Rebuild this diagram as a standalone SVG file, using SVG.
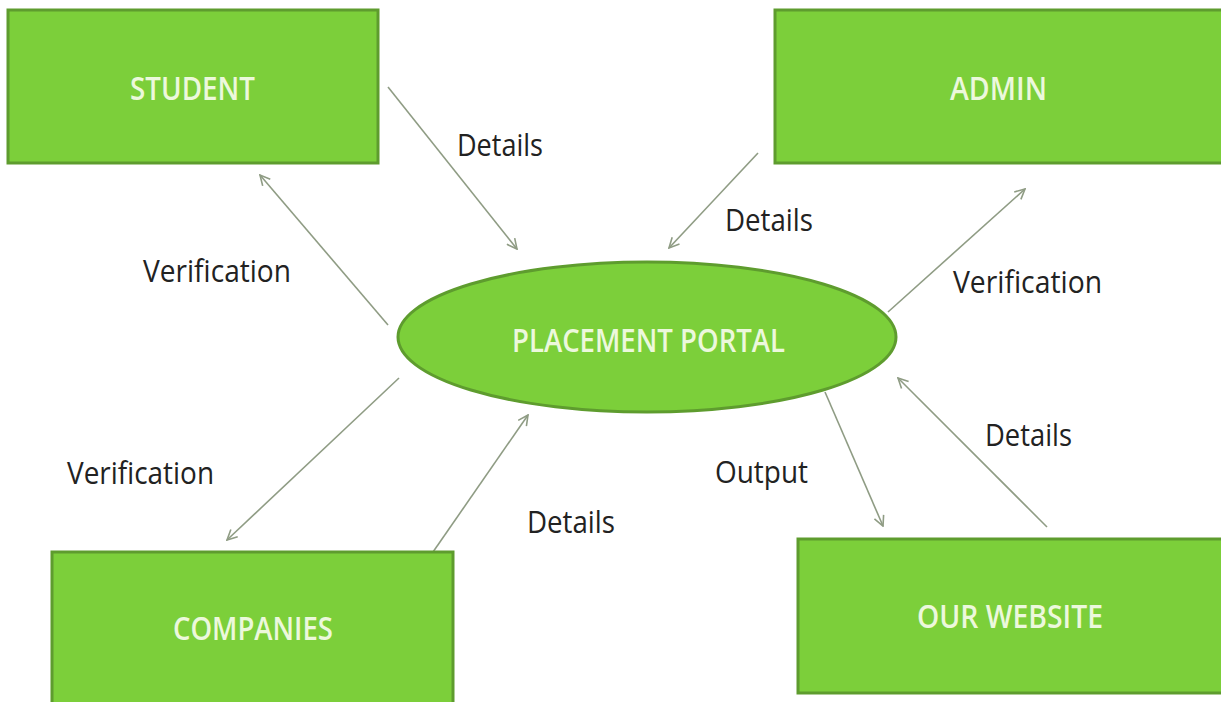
<svg xmlns="http://www.w3.org/2000/svg" width="1221" height="702" viewBox="0 0 1221 702">
  <defs>
    <marker id="arr" viewBox="0 0 12 12" refX="11" refY="6" markerWidth="12" markerHeight="12" markerUnits="userSpaceOnUse" orient="auto">
      <path d="M1,1 L11,6 L1,11" fill="none" stroke="#8f9c84" stroke-width="1.6"/>
    </marker>
    <style>
      .box { fill: #7ccf3a; stroke: #5e9c2e; stroke-width: 3; }
      .nlabel { font-family: "Open Sans", "Noto Sans", sans-serif; font-weight: 600; font-size: 32px; fill: #ecf8dc; }
      .elabel { font-family: "Open Sans", "Noto Sans", sans-serif; font-size: 31px; fill: #222; }
      .conn { stroke: #8f9c84; stroke-width: 1.6; fill: none; marker-end: url(#arr); }
    </style>
  </defs>
  <rect width="1221" height="702" fill="#ffffff"/>

  <g id="connectors">
    <line class="conn" x1="388" y1="87" x2="517" y2="249"/>
    <line class="conn" x1="758" y1="153" x2="669" y2="248"/>
    <line class="conn" x1="888" y1="312" x2="1025" y2="189"/>
    <line class="conn" x1="388" y1="325" x2="260" y2="175"/>
    <line class="conn" x1="399" y1="378" x2="227" y2="540"/>
    <line class="conn" x1="433" y1="552" x2="528" y2="415"/>
    <line class="conn" x1="825" y1="392" x2="883" y2="526"/>
    <line class="conn" x1="1047" y1="527" x2="898" y2="378"/>
    <text class="elabel" x="457" y="156" textLength="86" lengthAdjust="spacingAndGlyphs">Details</text>
    <text class="elabel" x="725" y="231" textLength="88" lengthAdjust="spacingAndGlyphs">Details</text>
    <text class="elabel" x="143" y="282" textLength="148" lengthAdjust="spacingAndGlyphs">Verification</text>
    <text class="elabel" x="953" y="293" textLength="149" lengthAdjust="spacingAndGlyphs">Verification</text>
    <text class="elabel" x="67" y="484" textLength="147" lengthAdjust="spacingAndGlyphs">Verification</text>
    <text class="elabel" x="527" y="533" textLength="88" lengthAdjust="spacingAndGlyphs">Details</text>
    <text class="elabel" x="715" y="483" textLength="93" lengthAdjust="spacingAndGlyphs">Output</text>
    <text class="elabel" x="985" y="446" textLength="87" lengthAdjust="spacingAndGlyphs">Details</text>
  </g>

  <g id="student">
    <rect class="box" x="8" y="10" width="370" height="153"/>
    <text class="nlabel" x="130" y="100" textLength="125" lengthAdjust="spacingAndGlyphs">STUDENT</text>
  </g>
  <g id="admin">
    <rect class="box" x="775" y="10" width="452" height="153"/>
    <text class="nlabel" x="950" y="100" textLength="97" lengthAdjust="spacingAndGlyphs">ADMIN</text>
  </g>
  <g id="portal">
    <ellipse class="box" cx="647" cy="337" rx="249" ry="75"/>
    <text class="nlabel" x="512" y="352" textLength="273" lengthAdjust="spacingAndGlyphs">PLACEMENT PORTAL</text>
  </g>
  <g id="companies">
    <rect class="box" x="52" y="552" width="401" height="160"/>
    <text class="nlabel" x="173" y="640" textLength="160" lengthAdjust="spacingAndGlyphs">COMPANIES</text>
  </g>
  <g id="website">
    <rect class="box" x="798" y="539" width="430" height="154"/>
    <text class="nlabel" x="917" y="628" textLength="186" lengthAdjust="spacingAndGlyphs">OUR WEBSITE</text>
  </g>
</svg>
